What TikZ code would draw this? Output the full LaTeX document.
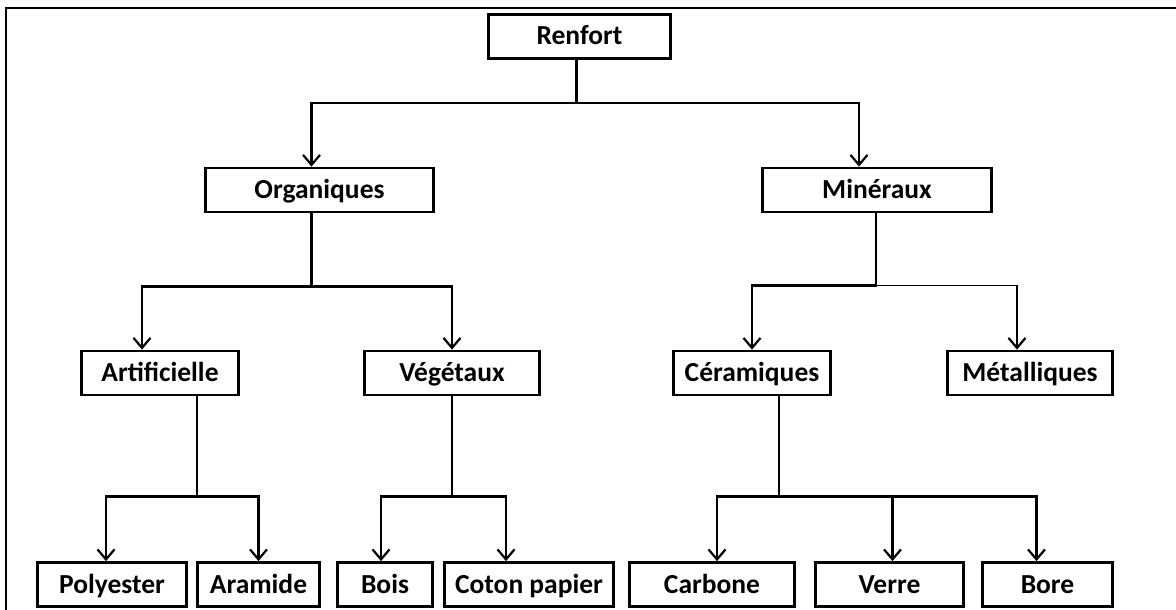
\documentclass[tikz,border=0pt]{standalone}
\usepackage{fontspec}
\setmainfont{Carlito}
\usetikzlibrary{arrows.meta}

\begin{document}
\begin{tikzpicture}[x=1pt,y=-1pt,
  box/.style={rectangle, draw, line width=2.8pt, minimum height=44pt, inner sep=0pt,
    text height=22pt, text depth=5pt, font=\bfseries\fontsize{27.5}{30}\selectfont},
  link/.style={line width=2.6pt},
  thinlink/.style={line width=1.8pt},
  >={Straight Barb[length=10pt,width=17pt,line width=2.2pt]}]
\useasboundingbox (0,0) rectangle (1176,610);
\draw[line width=2.8pt] (6,620) -- (6,8) -- (1185,8);

% niveau 1 et 2
\node[box, minimum width=182pt] (renfort) at (579.5,36.5) {Renfort};
\node[box, minimum width=228pt] (org) at (319.5,190) {Organiques};
\node[box, minimum width=229pt] (min) at (877,190) {Minéraux};

% niveau 3
\node[box, minimum width=157pt] (art) at (160,373) {Artificielle};
\node[box, minimum width=175pt] (veg) at (452,373) {Végétaux};
\node[box, minimum width=157pt] (cer) at (752,373) {Céramiques};
\node[box, minimum width=165pt] (met) at (1030,373) {Métalliques};

% niveau 4
\node[box, minimum width=149pt] (pol) at (112,584.5) {Polyester};
\node[box, minimum width=122pt] (ara) at (258.5,584.5) {Aramide};
\node[box, minimum width=95pt] (bois) at (385,584.5) {Bois};
\node[box, minimum width=169pt] (coton) at (529,584.5) {Coton papier};
\node[box, minimum width=165pt] (carb) at (712,584.5) {Carbone};
\node[box, minimum width=148pt] (verre) at (889.5,584.5) {Verre};
\node[box, minimum width=130pt] (bore) at (1047.5,584.5) {Bore};

\draw[link,->] ([xshift=-3pt]renfort.south) -- ++(0,43) -| ([xshift=-8pt]org.north);
\draw[link,->] ([xshift=-3pt]renfort.south) -- ++(0,43) -| ([xshift=-18pt]min.north);

\draw[link,->] ([xshift=-8pt]org.south) -- ++(0,73) -| ([xshift=-18pt]art.north);
\draw[link,->] ([xshift=-8pt]org.south) -- ++(0,73) -| (veg.north);
\draw[link,->] ([xshift=-1pt]min.south) -- ++(0,72) -| (cer.north);
\draw[thinlink,->] ([xshift=-1pt]min.south) -- ++(0,72) -| ([xshift=-13pt]met.north);

\draw[thinlink] ([xshift=37pt]art.south) -- ++(0,100);
\draw[link,->] ([xshift=37pt]art.south) ++(0,100) -| ([xshift=-6pt]pol.north);
\draw[link,->] ([xshift=37pt]art.south) ++(0,100) -| (ara.north);
\draw[link,->] (veg.south) -- ++(0,100) -| ([xshift=-4pt]bois.north);
\draw[link,->] (veg.south) -- ++(0,100) -| ([xshift=-23pt]coton.north);
\draw[link,->] ([xshift=27pt]cer.south) -- ++(0,100) -| ([xshift=5pt]carb.north);
\draw[link,->] ([xshift=27pt]cer.south) -- ++(0,100) -| ([xshift=3pt]verre.north);
\draw[link,->] ([xshift=27pt]cer.south) -- ++(0,100) -| ([xshift=-11pt]bore.north);
\end{tikzpicture}
\end{document}
